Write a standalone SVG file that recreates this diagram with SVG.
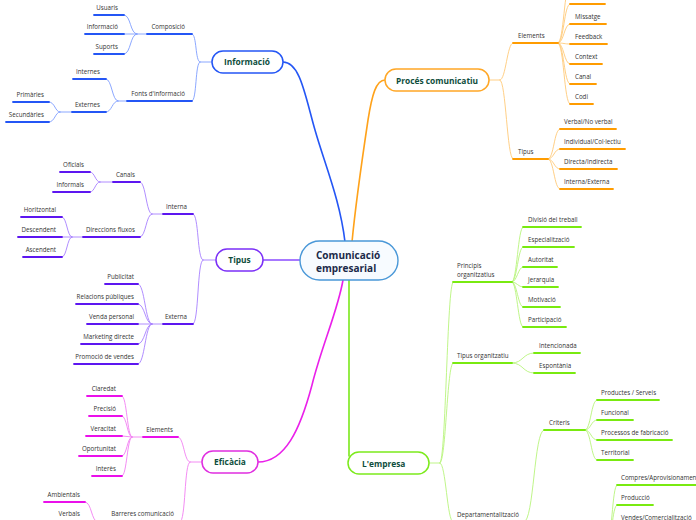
<svg xmlns="http://www.w3.org/2000/svg" width="696" height="520" viewBox="0 0 696 520">
<style>
text{font-family:"Open Sans","Noto Sans",sans-serif;}
.l{font-size:6.2px;fill:#333;}
.e{text-anchor:end;}
.n{font-size:8.4px;font-weight:bold;fill:#0e4d3c;text-anchor:middle;}
.c{font-size:10px;font-weight:bold;fill:#1b2a49;}
path,line{fill:none;stroke-linecap:round;}
.bt{stroke:#7e9dff;stroke-width:.9;} .bu{stroke:#2456f5;stroke-width:1.8;}
.pt{stroke:#a780ff;stroke-width:.9;} .pu{stroke:#5d16f0;stroke-width:1.8;}
.mt{stroke:#f27ff2;stroke-width:.9;} .mu{stroke:#ea10ea;stroke-width:1.8;}
.ot{stroke:#ffc978;stroke-width:.9;} .ou{stroke:#ff9c00;stroke-width:1.8;}
.gt{stroke:#b8f47c;stroke-width:.9;} .gu{stroke:#79ea10;stroke-width:1.8;}
</style>
<g id="connectors">
<path d="M283,62 C300,62 305,95 315,130 C325,165 340,200 345,242" stroke="#2456f5" stroke-width="1.6"/>
<path d="M385,80 C376,80 372,95 368,120 C362,160 356,200 352,242" stroke="#ffa21a" stroke-width="1.6"/>
<path d="M258,462 C285,462 300,430 312,385 C322,345 338,310 343,280" stroke="#ea20ea" stroke-width="1.6"/>
<path d="M349,280 L349,456" stroke="#7ae81a" stroke-width="1.6"/>
<path d="M263,260 L300,260" stroke="#8a4cff" stroke-width="1.4"/>
<g class="bt">
<path d="M212,62 L200,62 M200,62 C195,62 197,34 192,34 M200,62 C195,62 197,101 192,101"/>
<path d="M147,34 L137,34 M137,34 C130,34 131,15 124,15 M137,34 L124,34 M137,34 C130,34 131,54 124,54"/>
<path d="M127,101 L118,101 M118,101 C112,101 112,79 106,79 M118,101 C112,101 112,112 106,112"/>
<path d="M72,112 L60,112 M60,112 C55,112 55,102 49,102 M60,112 C55,112 55,122 49,122"/>
</g>
<g class="pt">
<path d="M216,260 L203,260 M203,260 C197,260 199,214 193,214 M203,260 C197,260 199,324 193,324"/>
<path d="M163,214 L152,214 M152,214 C146,214 146,182 140,182 M152,214 C146,214 146,237 140,237"/>
<path d="M113,182 L100,182 M100,182 C95,182 95,172 90,172 M100,182 C95,182 95,192 90,192"/>
<path d="M83,237 L72,237 M72,237 C67,237 67,217 62,217 M72,237 L62,237 M72,237 C67,237 67,257 62,257"/>
<path d="M163,324 L152,324 M152,324 C145,324 145,284 138,284 M152,324 C145,324 145,304 138,304 M152,324 L138,324 M152,324 C145,324 145,344 138,344 M152,324 C145,324 145,364 138,364"/>
</g>
<g class="mt">
<path d="M202,462 L190,462 M190,462 C184,462 184,437 178,437 M190,462 C184,462 186,522 180,522"/>
<path d="M143,437 L132,437 M132,437 C127,437 127,396 122,396 M132,437 C127,437 127,416 122,416 M132,437 L122,436 M132,437 C127,437 127,456 122,456 M132,437 C127,437 127,476 122,476"/>
<path d="M108,522 L98,522 M98,522 C91,522 92,502 85,502"/>
</g>
<g class="ot">
<path d="M489,80 L500,80 M500,80 C506,80 507,43 513,43 M500,80 C506,80 507,159 513,159"/>
<path d="M558,43 C564,43 564,-16 570,-16 M558,43 C564,43 564,4 570,4 M558,43 C564,43 564,24 570,24 M558,43 C564,43 564,44 570,44 M558,43 C564,43 564,64 570,64 M558,43 C564,43 564,84 570,84 M558,43 C564,43 564,104 570,104"/>
<path d="M548,159 C554,159 554,129 560,129 M548,159 C554,159 554,149 560,149 M548,159 C554,159 554,169 560,169 M548,159 C554,159 554,189 560,189"/>
</g>
<g class="gt">
<path d="M429,463 L440,463 M440,463 C446,463 447,282 453,282 M440,463 C446,463 447,363 453,363 M440,463 C446,463 447,522 453,522"/>
<path d="M512,282 C517,282 518,227 523,227 M512,282 C517,282 518,247 523,247 M512,282 C517,282 518,267 523,267 M512,282 C517,282 518,287 523,287 M512,282 C517,282 518,307 523,307 M512,282 C517,282 518,327 523,327"/>
<path d="M512,363 C523,363 523,353 534,353 M512,363 C523,363 523,373 534,373"/>
<path d="M524,522 C534,522 534,430 544,430"/>
<path d="M585,430 C591,430 591,400 597,400 M585,430 C591,430 591,420 597,420 M585,430 C591,430 591,440 597,440 M585,430 C591,430 591,460 597,460"/>
<path d="M607,545 C612,545 612,485 617,485 M607,545 C612,545 612,505 617,505 M607,545 C612,545 612,525 617,525"/>
</g>
</g>
<g id="central">
<rect x="300" y="241" width="98" height="39" rx="19.5" fill="#f7fbff" stroke="#4a98d8" stroke-width="1.4"/>
<text class="c" x="316" y="258.5">Comunicació</text>
<text class="c" x="316" y="272">empresarial</text>
</g>
<g id="informacio">
<rect x="212" y="51" width="71" height="22" rx="11" fill="#fff" stroke="#2456f5" stroke-width="1.5"/>
<text class="n" x="247" y="65">Informació</text>
</g>
<g id="composicio"><path class="bu" d="M147,34 H192"/><text class="l e" x="185" y="29">Composició</text></g>
<g id="usuaris"><path class="bu" d="M94,15 H124"/><text class="l e" x="118" y="10">Usuaris</text></g>
<g id="informacio2"><path class="bu" d="M85,34 H124"/><text class="l e" x="118" y="29">Informació</text></g>
<g id="suports"><path class="bu" d="M94,54 H124"/><text class="l e" x="118" y="49">Suports</text></g>
<g id="fonts"><path class="bu" d="M127,101 H192"/><text class="l e" x="185" y="96">Fonts d'informació</text></g>
<g id="internes"><path class="bu" d="M73,79 H106"/><text class="l e" x="100" y="74">Internes</text></g>
<g id="externes"><path class="bu" d="M72,112 H106"/><text class="l e" x="100" y="107">Externes</text></g>
<g id="primaries"><path class="bu" d="M13,102 H49"/><text class="l e" x="44" y="97">Primàries</text></g>
<g id="secundaries"><path class="bu" d="M6,122 H49"/><text class="l e" x="44" y="117">Secundàries</text></g>

<g id="tipus">
<rect x="216" y="249" width="47" height="22" rx="11" fill="#fff" stroke="#7b2ff7" stroke-width="1.5"/>
<text class="n" x="239.5" y="263">Tipus</text>
</g>
<g id="interna"><path class="pu" d="M163,214 H193"/><text class="l e" x="187" y="209">Interna</text></g>
<g id="externa"><path class="pu" d="M163,324 H193"/><text class="l e" x="187" y="319">Externa</text></g>
<g id="canals"><path class="pu" d="M113,182 H140"/><text class="l e" x="135" y="177">Canals</text></g>
<g id="direccions"><path class="pu" d="M83,237 H140"/><text class="l e" x="135" y="232">Direccions fluxos</text></g>
<g id="oficials"><path class="pu" d="M60,172 H90"/><text class="l e" x="84" y="167">Oficials</text></g>
<g id="informals"><path class="pu" d="M53,192 H90"/><text class="l e" x="84" y="187">Informals</text></g>
<g id="horitzontal"><path class="pu" d="M21,217 H62"/><text class="l e" x="56" y="212">Horitzontal</text></g>
<g id="descendent"><path class="pu" d="M18,237 H62"/><text class="l e" x="56" y="232">Descendent</text></g>
<g id="ascendent"><path class="pu" d="M23,257 H62"/><text class="l e" x="56" y="252">Ascendent</text></g>
<g id="publicitat"><path class="pu" d="M105,284 H138"/><text class="l e" x="134" y="279">Publicitat</text></g>
<g id="relacions"><path class="pu" d="M76,304 H138"/><text class="l e" x="134" y="299">Relacions públiques</text></g>
<g id="venda"><path class="pu" d="M87,324 H138"/><text class="l e" x="134" y="319">Venda personal</text></g>
<g id="marketing"><path class="pu" d="M81,344 H138"/><text class="l e" x="134" y="339">Marketing directe</text></g>
<g id="promocio"><path class="pu" d="M74,364 H138"/><text class="l e" x="134" y="359">Promoció de vendes</text></g>

<g id="eficacia">
<rect x="202" y="451" width="56" height="22" rx="11" fill="#fff" stroke="#e02ee0" stroke-width="1.5"/>
<text class="n" x="230" y="465">Eficàcia</text>
</g>
<g id="elements-ef"><path class="mu" d="M143,437 H178"/><text class="l e" x="173" y="432">Elements</text></g>
<g id="barreres"><path class="mu" d="M108,522 H180"/><text class="l e" x="174" y="516">Barreres comunicació</text></g>
<g id="claredat"><path class="mu" d="M87,396 H122"/><text class="l e" x="116" y="391">Claredat</text></g>
<g id="precisio"><path class="mu" d="M89,416 H122"/><text class="l e" x="116" y="411">Precisió</text></g>
<g id="veracitat"><path class="mu" d="M86,436 H122"/><text class="l e" x="116" y="431">Veracitat</text></g>
<g id="oportunitat"><path class="mu" d="M79,456 H122"/><text class="l e" x="116" y="451">Oportunitat</text></g>
<g id="interes"><path class="mu" d="M92,476 H122"/><text class="l e" x="116" y="471">Interès</text></g>
<g id="ambientals"><path class="mu" d="M44,502 H85"/><text class="l e" x="80" y="497">Ambientals</text></g>
<g id="verbals"><text class="l e" x="80" y="516">Verbals</text></g>

<g id="proces">
<rect x="385" y="69" width="104" height="22" rx="11" fill="#fff" stroke="#ffa726" stroke-width="1.5"/>
<text class="n" x="437" y="83.5">Procés comunicatiu</text>
</g>
<g id="elements-pr"><path class="ou" d="M513,43 H558"/><text class="l" x="518" y="38">Elements</text></g>
<g id="tipus-pr"><path class="ou" d="M513,159 H548"/><text class="l" x="518" y="154">Tipus</text></g>
<g id="receptor"><path class="ou" d="M570,4 H605"/></g>
<g id="missatge"><path class="ou" d="M570,24 H606"/><text class="l" x="575" y="19">Missatge</text></g>
<g id="feedback"><path class="ou" d="M570,44 H607"/><text class="l" x="575" y="39">Feedback</text></g>
<g id="context"><path class="ou" d="M570,64 H602"/><text class="l" x="575" y="59">Context</text></g>
<g id="canal"><path class="ou" d="M570,84 H596"/><text class="l" x="575" y="79">Canal</text></g>
<g id="codi"><path class="ou" d="M570,104 H593"/><text class="l" x="575" y="99">Codi</text></g>
<g id="verbal"><path class="ou" d="M560,129 H616"/><text class="l" x="564" y="124">Verbal/No verbal</text></g>
<g id="individual"><path class="ou" d="M560,149 H625"/><text class="l" x="564" y="144">Individual/Col·lectiu</text></g>
<g id="directa"><path class="ou" d="M560,169 H617"/><text class="l" x="564" y="164">Directa/Indirecta</text></g>
<g id="internaext"><path class="ou" d="M560,189 H613"/><text class="l" x="564" y="184">Interna/Externa</text></g>

<g id="empresa">
<rect x="348" y="452" width="81" height="22" rx="11" fill="#fff" stroke="#7cea1c" stroke-width="1.5"/>
<text class="n" x="362" y="466.5" style="text-anchor:start">L'empresa</text>
</g>
<g id="principis"><path class="gu" d="M453,282 H512"/><text class="l" x="457" y="268">Principis</text><text class="l" x="457" y="277">organitzatius</text></g>
<g id="tipusorg"><path class="gu" d="M453,363 H512"/><text class="l" x="457" y="358">Tipus organitzatiu</text></g>
<g id="departamentalitzacio"><path class="gu" d="M453,522 H524"/><text class="l" x="457" y="517">Departamentalització</text></g>
<g id="divisio"><path class="gu" d="M523,227 H581"/><text class="l" x="528" y="222">Divisió del treball</text></g>
<g id="especialitzacio"><path class="gu" d="M523,247 H574"/><text class="l" x="528" y="242">Especialització</text></g>
<g id="autoritat"><path class="gu" d="M523,267 H557"/><text class="l" x="528" y="262">Autoritat</text></g>
<g id="jerarquia"><path class="gu" d="M523,287 H558"/><text class="l" x="528" y="282">Jerarquia</text></g>
<g id="motivacio"><path class="gu" d="M523,307 H560"/><text class="l" x="528" y="302">Motivació</text></g>
<g id="participacio"><path class="gu" d="M523,327 H566"/><text class="l" x="528" y="322">Participació</text></g>
<g id="intencionada"><path class="gu" d="M534,353 H580"/><text class="l" x="539" y="348">Intencionada</text></g>
<g id="espontania"><path class="gu" d="M534,373 H575"/><text class="l" x="539" y="368">Espontània</text></g>
<g id="criteris"><path class="gu" d="M544,430 H585"/><text class="l" x="549" y="425">Criteris</text></g>
<g id="productes"><path class="gu" d="M597,400 H659"/><text class="l" x="601" y="395">Productes / Serveis</text></g>
<g id="funcional"><path class="gu" d="M597,420 H633"/><text class="l" x="601" y="415">Funcional</text></g>
<g id="processos"><path class="gu" d="M597,440 H672"/><text class="l" x="601" y="435">Processos de fabricació</text></g>
<g id="territorial"><path class="gu" d="M597,460 H633"/><text class="l" x="601" y="455">Territorial</text></g>
<g id="compres"><path class="gu" d="M617,485 H700"/><text class="l" x="621" y="480">Compres/Aprovisionament</text></g>
<g id="produccio"><path class="gu" d="M617,505 H653"/><text class="l" x="621" y="500">Producció</text></g>
<g id="vendes"><text class="l" x="621" y="520">Vendes/Comercialització</text></g>
</svg>
